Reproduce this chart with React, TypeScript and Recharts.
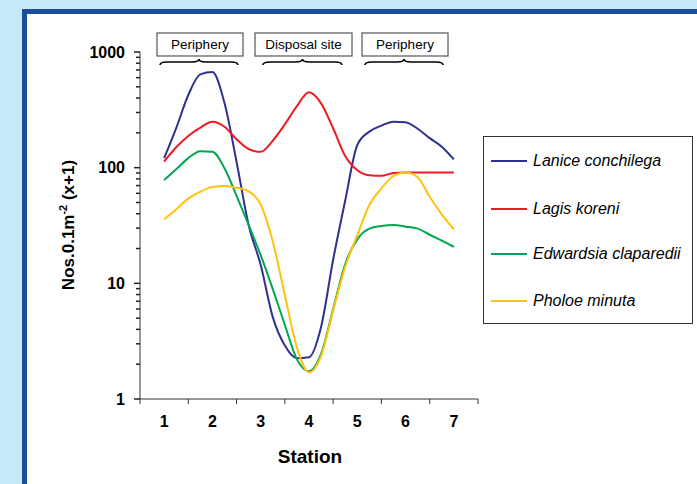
import React from "react";
import { LineChart, Line, XAxis, YAxis } from "recharts";

const stations = [1, 1.25, 1.5, 1.75, 2, 2.25, 2.5, 2.75, 3, 3.25, 3.5, 3.75, 4, 4.25, 4.5, 4.75, 5, 5.25, 5.5, 5.75, 6, 6.25, 6.5, 6.75, 7];

const lanice = [121, 220, 425, 640, 670, 362, 112, 32, 14.4, 5.1, 2.9, 2.25, 2.3, 4.2, 16, 52, 157, 205, 231, 250, 247, 217, 180, 152, 118];
const lagis = [113, 150, 188, 222, 250, 226, 176, 145, 137, 171, 237, 341, 448, 360, 219, 126, 95, 86, 85, 90, 91, 91, 91, 91, 91];
const edwardsia = [78, 97, 121, 139, 137, 99, 57, 32, 17.5, 8.9, 4.36, 2.2, 1.74, 2.45, 6.0, 14.7, 24, 29.7, 31.3, 31.9, 30.9, 29.7, 26.3, 23.4, 20.7];
const pholoe = [35.8, 43.7, 54, 62, 68, 69.4, 67, 62.5, 48, 23, 7.9, 2.78, 1.7, 2.35, 5.8, 13.9, 26, 47.5, 66.3, 84.7, 91, 82.6, 56, 39.5, 29.3];

const stationLabels = [1, 2, 3, 4, 5, 6, 7];
const stationBounds = [0.5, 1.5, 2.5, 3.5, 4.5, 5.5, 6.5, 7.5];
const yTicks = [1, 2, 3, 4, 5, 6, 7, 8, 9, 10, 20, 30, 40, 50, 60, 70, 80, 90, 100, 200, 300, 400, 500, 600, 700, 800, 900, 1000];
const yMajor = [1, 10, 100, 1000];

const series = [
  { key: "lanice", name: "Lanice conchilega", color: "#2e3192" },
  { key: "lagis", name: "Lagis koreni", color: "#ed1c24" },
  { key: "edwardsia", name: "Edwardsia claparedii", color: "#00a651" },
  { key: "pholoe", name: "Pholoe minuta", color: "#ffc20e" },
];

const zones = [
  { label: "Periphery", x: 157, w: 86, braceFrom: 160, braceTo: 238 },
  { label: "Disposal site", x: 255, w: 97, braceFrom: 263, braceTo: 342 },
  { label: "Periphery", x: 362, w: 86, braceFrom: 365, braceTo: 443 },
];

const data = stations.map((s, i) => ({
  station: s,
  lanice: lanice[i],
  lagis: lagis[i],
  edwardsia: edwardsia[i],
  pholoe: pholoe[i],
}));

const W = 697;
const H = 484;
const PLOT_LEFT = 140;
const PLOT_RIGHT = 478;
const PLOT_TOP = 52;
const PLOT_BOTTOM = 399;
const Y_AXIS_W = 60;
const X_AXIS_H = 30;
const HALF_STEP = (PLOT_RIGHT - PLOT_LEFT) / 14;

const FONT = "Arial, 'Liberation Sans', sans-serif";
const AXIS = "#333";

function YTick({ x, y, payload }: any) {
  const v = payload.value;
  const major = yMajor.includes(v);
  const tx = Number(x);
  const ty = Number(y);
  return (
    <g>
      <path d={`M ${tx + (major ? -1 : 1)} ${ty} H ${tx + 5}`} stroke="#222" strokeWidth={1.5} fill="none" />
      {major && (
        <text x={tx - 10} y={ty} dy={5.5} textAnchor="end" fontFamily={FONT} fontWeight="bold" fontSize={16} fill="#000">
          {v}
        </text>
      )}
    </g>
  );
}

function XTick({ x, y, payload }: any) {
  const v = payload.value + 0.5;
  if (!stationLabels.includes(v)) return null;
  return (
    <text x={x + HALF_STEP} y={y} dy={23} textAnchor="middle" fontFamily={FONT} fontWeight="bold" fontSize={16} fill="#000">
      {v}
    </text>
  );
}

function bracePath(x1: number, x2: number, y: number) {
  const cx = (x1 + x2) / 2;
  return `M ${x1} ${y + 5} Q ${x1} ${y + 2} ${x1 + 7} ${y + 2} L ${cx - 7} ${y + 2} Q ${cx} ${y + 2} ${cx} ${y - 1} Q ${cx} ${y + 2} ${cx + 7} ${y + 2} L ${x2 - 7} ${y + 2} Q ${x2} ${y + 2} ${x2} ${y + 5}`;
}

export default function App() {
  return (
    <div style={{ position: "absolute", left: 0, top: 0, width: W, height: H, background: "#c6e8f8", overflow: "hidden" }}>
      <div
        style={{
          position: "absolute",
          left: 22,
          top: 9,
          width: 720,
          height: 520,
          background: "#fff",
          borderLeft: "5px solid #1b4f9a",
          borderTop: "5px solid #1b4f9a",
        }}
      />
      <div style={{ position: "absolute", left: 0, top: 0 }}>
        <LineChart
          width={W}
          height={H}
          data={data}
          margin={{ top: PLOT_TOP, right: W - PLOT_RIGHT, bottom: H - PLOT_BOTTOM - X_AXIS_H, left: PLOT_LEFT - Y_AXIS_W }}
        >
          <XAxis
            dataKey="station"
            type="number"
            domain={[0.5, 7.5]}
            ticks={stationBounds}
            allowDataOverflow
            height={X_AXIS_H}
            axisLine={{ stroke: AXIS }}
            tickLine={{ stroke: AXIS }}
            tickSize={5}
            tickMargin={0}
            tick={<XTick />}
            interval={0}
          />
          <YAxis
            type="number"
            scale="log"
            domain={[1, 1000]}
            ticks={yTicks}
            allowDataOverflow
            width={Y_AXIS_W}
            axisLine={{ stroke: AXIS }}
            tickLine={false}
            tickSize={5}
            tickMargin={0}
            tick={<YTick />}
            interval={0}
          />
          {series.map((s) => (
            <Line
              key={s.key}
              type="monotone"
              dataKey={s.key}
              name={s.name}
              stroke={s.color}
              strokeWidth={2}
              dot={false}
              isAnimationActive={false}
            />
          ))}
        </LineChart>
      </div>
      <svg width={W} height={H} style={{ position: "absolute", left: 0, top: 0, pointerEvents: "none" }}>
        {zones.map((z, i) => (
          <g key={i}>
            <rect x={z.x} y={33} width={z.w} height={23} fill="#fff" stroke="#555" strokeWidth={1.2} />
            <text x={z.x + z.w / 2} y={49} textAnchor="middle" fontFamily={FONT} fontSize={13.5} fill="#000">
              {z.label}
            </text>
            <path d={bracePath(z.braceFrom, z.braceTo, 60)} fill="none" stroke="#000" strokeWidth={1.6} />
          </g>
        ))}
        <text
          transform="translate(74 225) rotate(-90)"
          textAnchor="middle"
          fontFamily={FONT}
          fontWeight="bold"
          fontSize={17}
          fill="#000"
        >
          Nos.0.1m
          <tspan fontSize={11} dy={-7}>-2</tspan>
          <tspan dy={7}> (x+1)</tspan>
        </text>
        <text x={310} y={463} textAnchor="middle" fontFamily={FONT} fontWeight="bold" fontSize={19} fill="#000">
          Station
        </text>
      </svg>
      <div
        style={{
          position: "absolute",
          left: 483,
          top: 136,
          width: 208,
          height: 186,
          border: "1px solid #333",
          background: "#fff",
          fontFamily: FONT,
        }}
      >
        {series.map((s, i) => (
          <div key={s.key} style={{ position: "absolute", left: 7, top: [24, 72, 117, 164][i] - 10, height: 20, display: "flex", alignItems: "center" }}>
            <div style={{ width: 36, height: 2, background: s.color, marginRight: 6 }} />
            <span style={{ fontStyle: "italic", fontSize: 16, color: "#000", whiteSpace: "nowrap" }}>{s.name}</span>
          </div>
        ))}
      </div>
    </div>
  );
}
